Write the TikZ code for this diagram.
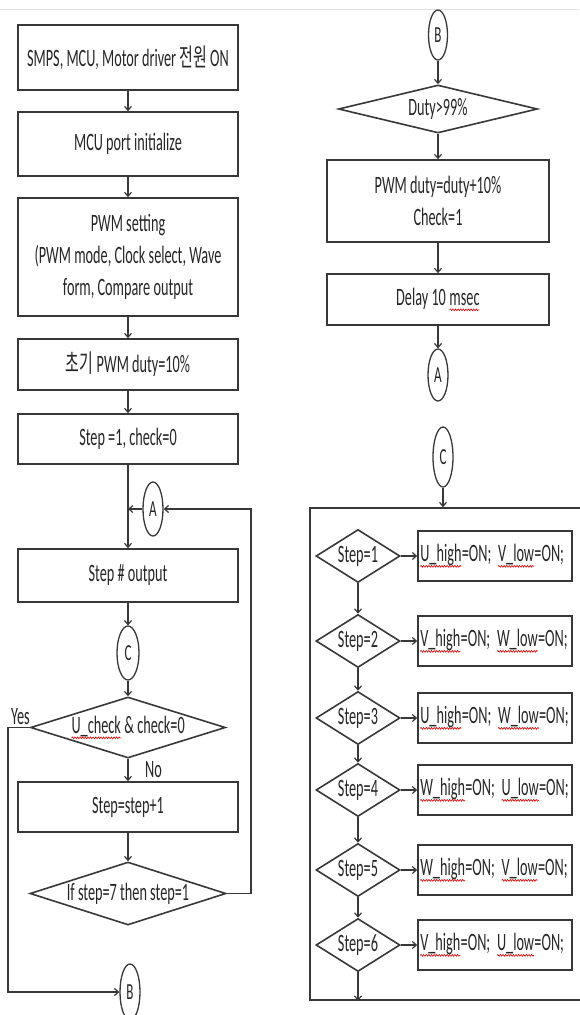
\documentclass[tikz,border=0pt]{standalone}
\usepackage{fontspec}
\setmainfont{Carlito}[FakeStretch=0.57]
\newfontfamily\kr{Noto Sans CJK KR}[FakeStretch=0.6]
\usetikzlibrary{shapes.geometric,arrows.meta,decorations.pathmorphing}
\definecolor{ln}{HTML}{383838}
\definecolor{tx}{HTML}{262626}
\newcommand\sqg[1]{\tikz[baseline=(sqw.base)]{\node[rectangle,draw=none,fill=none,inner sep=0pt,outer sep=0pt,minimum width=0pt,minimum height=0pt,text=tx](sqw){#1};\draw[red!85!black,line width=0.6pt,decorate,decoration={snake,amplitude=0.9pt,segment length=2.6pt}]([yshift=-4.5pt]sqw.base west)--([yshift=-4.5pt]sqw.base east);}}
\newcommand\actt[1]{\makebox[150pt][l]{#1}}
\tikzset{
  box/.style={draw=ln,line width=1.6pt,rectangle,inner sep=2pt,align=center,font=\fontsize{25}{32}\selectfont,text=tx},
  dia/.style={diamond,draw=ln,line width=1.6pt,inner sep=0pt,align=center,font=\fontsize{25}{28}\selectfont,text=tx},
  conn/.style={ellipse,draw=ln,line width=1.3pt,minimum width=20pt,minimum height=54pt,inner sep=0pt,font=\fontsize{23}{26}\selectfont,text=tx},
  act/.style={box,minimum height=50pt,align=left},
  arr/.style={->,draw=ln,line width=1.2pt},
  lbl/.style={font=\fontsize{25}{28}\selectfont,text=tx,inner sep=0pt}
}
\begin{document}
\begin{tikzpicture}[x=1pt,y=-1pt,>={Straight Barb[length=4pt,width=7pt]}]
\useasboundingbox (0,0) rectangle (579,1015);
\draw[gray!25,line width=0.8pt] (0,9) -- (579,9);
% left column
\node[box,minimum width=220pt,minimum height=65pt] (b1) at (128,57.5) {SMPS, MCU, Motor driver {\kr 전원} ON};
\node[box,minimum width=220pt,minimum height=64pt] (b2) at (128,144) {MCU port initialize};
\node[box,minimum width=220pt,minimum height=118pt] (b3) at (128,257) {PWM setting\\(PWM mode, Clock select, Wave\\form, Compare output};
\node[box,minimum width=220pt,minimum height=51pt] (b4) at (128,364.5) {{\kr 초기} PWM duty=10\%};
\node[box,minimum width=220pt,minimum height=50pt] (b5) at (128,439) {Step =1, check=0};
\node[box,minimum width=220pt,minimum height=53pt] (b6) at (128,575.5) {Step \# output};
\node[conn] (A1) at (153,509) {A};
\coordinate (j) at (128,509);
\node[conn,minimum width=22pt] (C1) at (128,653) {C};
\node[dia,shape aspect=3.2,minimum width=195pt,minimum height=61pt] (d1) at (128,727.5) {\sqg{U\_check} \& check=0};
\node[box,minimum width=220pt,minimum height=50pt] (b7) at (128,807) {Step=step+1};
\node[dia,shape aspect=3.1,minimum width=196pt,minimum height=63pt] (d2) at (128,893.5) {If step=7 then step=1};
\node[conn,minimum height=56pt] (B1) at (130,992) {B};
\node[lbl,anchor=base west] (yes) at (11,724) {Yes};
\node[lbl,anchor=base west] (no) at (145,777) {No};
\coordinate (lp) at (251,509);
\coordinate (yl) at (8,727.5);
% left connectors
\draw[arr] (b1) -- (b2);
\draw[arr] (b2) -- (b3);
\draw[arr] (b3) -- (b4);
\draw[arr] (b4) -- (b5);
\draw[arr] (b5) -- (b6);
\draw[arr] (A1) -- (j);
\draw[arr] (b6) -- (C1);
\draw[arr] (C1) -- (d1);
\draw[arr] (d1) -- (b7);
\draw[arr] (b7) -- (d2);
\draw[arr] (d2.east) -| (lp) -- (A1.east);
\draw[arr] (d1.west) -- (yl) |- (B1.west);
% right column
\node[conn,minimum width=19pt,minimum height=50pt] (B2) at (438,35) {B};
\node[dia,shape aspect=4.1,minimum width=199pt,minimum height=48pt] (dd) at (438,109) {Duty>99\%};
\node[box,minimum width=222pt,minimum height=82pt] (r1) at (438,201) {PWM duty=duty+10\%\\Check=1};
\node[box,minimum width=222pt,minimum height=51pt] (r2) at (438,299.5) {Delay 10 \sqg{msec}};
\node[conn,minimum height=52pt] (A2) at (438,375) {A};
\node[conn,minimum height=60pt] (C2) at (443,457) {C};
\draw[arr] (B2) -- (dd);
\draw[arr] (dd) -- (r1);
\draw[arr] (r1) -- (r2);
\draw[arr] (r2) -- (A2);
% step frame
\node[draw=ln,line width=1.6pt,inner sep=0pt,minimum width=300pt,minimum height=492pt] (fr) at (460,754) {};
\draw[arr] (C2.south) -- (C2.south |- fr.north);
\foreach \i/\y/\t in {1/556/{\sqg{U\_high}=ON;~~\sqg{V\_low}=ON;},
                     2/641/{\sqg{V\_high}=ON;~~\sqg{W\_low}=ON;},
                     3/718/{\sqg{U\_high}=ON;~~\sqg{W\_low}=ON;},
                     4/790/{\sqg{W\_high}=ON;~~\sqg{U\_low}=ON;},
                     5/870/{\sqg{W\_high}=ON;~~\sqg{V\_low}=ON;},
                     6/945/{\sqg{V\_high}=ON;~~\sqg{U\_low}=ON;}}{
  \node[dia,shape aspect=1.6,minimum width=84pt,minimum height=53pt] (s\i) at (358,\y) {Step=\i};
  \node[act] (a\i) at (495,\y) {\actt{\t}};
  \draw[arr] (s\i) -- (a\i);
}
\foreach \i/\k in {1/2,2/3,3/4,4/5,5/6}{\draw[arr] (s\i) -- (s\k);}
\draw[arr] (s6.south) -- (s6.south |- fr.south);
\end{tikzpicture}
\end{document}
